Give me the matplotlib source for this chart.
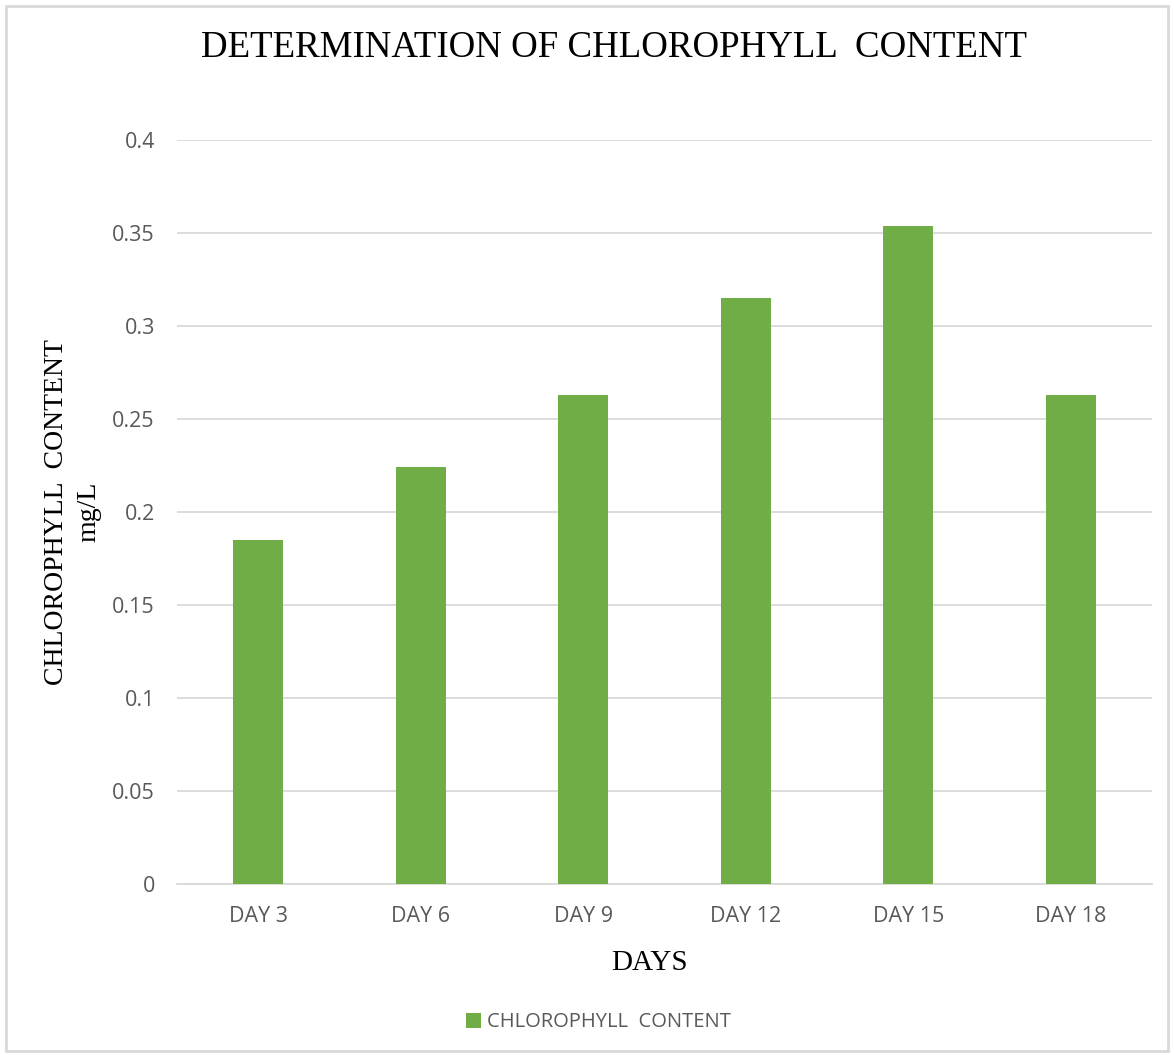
import numpy as np
import matplotlib.pyplot as plt
from matplotlib.patches import Rectangle

days = ['DAY 3', 'DAY 6', 'DAY 9', 'DAY 12', 'DAY 15', 'DAY 18']
chlorophyll = [0.185, 0.224, 0.263, 0.315, 0.354, 0.263]
yticks = [0, 0.05, 0.1, 0.15, 0.2, 0.25, 0.3, 0.35, 0.4]
ytick_labels = ['0', '0.05', '0.1', '0.15', '0.2', '0.25', '0.3', '0.35', '0.4']

green = '#70AD47'
grid_col = '#D9D9D9'
text_col = '#595959'

fig = plt.figure(figsize=(11.74, 10.55), dpi=100)
fig.patches.append(Rectangle((0.005, 0.004), 0.99, 0.99, transform=fig.transFigure,
                             fill=False, edgecolor='#D9D9D9', linewidth=2))

ax = fig.add_axes([0.1508, 0.1621, 0.8305, 0.7052])
x = np.arange(len(days))
ax.bar(x, chlorophyll, width=0.31, color=green, zorder=3, label='CHLOROPHYLL  CONTENT')

ax.set_xlim(-0.5, len(days) - 0.5)
ax.set_ylim(0, 0.4)
ax.set_yticks(yticks)
ax.set_yticklabels(ytick_labels)
ax.set_xticks(x)
ax.set_xticklabels(days)
ax.yaxis.grid(True, color=grid_col, linewidth=1.3, zorder=0)
for s in ['top', 'right', 'left']:
    ax.spines[s].set_visible(False)
ax.spines['bottom'].set_color(grid_col)
ax.spines['bottom'].set_linewidth(1.3)
ax.tick_params(length=0, labelsize=15.5, labelcolor=text_col)
ax.tick_params(axis='x', pad=16)
ax.tick_params(axis='y', pad=16)
for lab in ax.get_xticklabels() + ax.get_yticklabels():
    lab.set_family('Open Sans')

fig.text(0.523, 0.955, 'DETERMINATION OF CHLOROPHYLL  CONTENT', ha='center', va='center',
         family='Liberation Serif', fontsize=26.6, color='black')
fig.text(0.062, 0.515, 'CHLOROPHYLL  CONTENT\nmg/L', rotation=90, ha='center', va='center',
         family='Liberation Serif', fontsize=20, color='black', linespacing=1.4)
fig.text(0.553, 0.087, 'DAYS', ha='center', va='center',
         family='Liberation Serif', fontsize=21, color='black')

leg = fig.legend(loc='center', bbox_to_anchor=(0.51, 0.031), frameon=False,
                 prop={'family': 'Open Sans', 'size': 14.5}, handlelength=0.75,
                 handleheight=0.75, handletextpad=0.3)
for t in leg.get_texts():
    t.set_color(text_col)

fig.savefig('out.png', dpi=100)
